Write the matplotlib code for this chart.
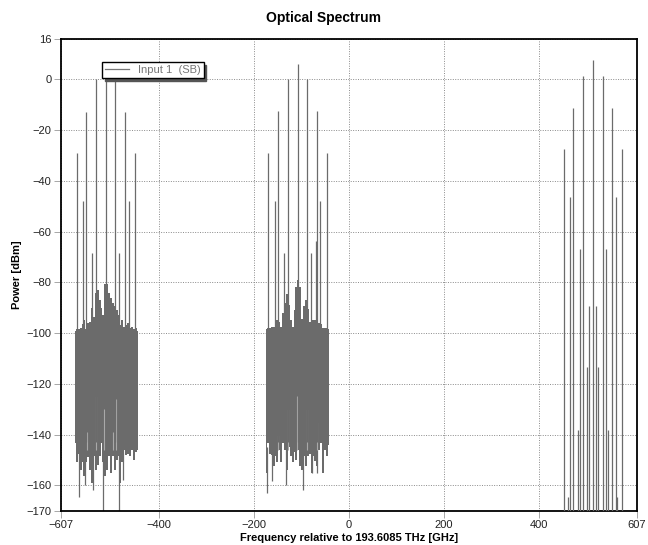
import numpy as np
import matplotlib
matplotlib.use("Agg")
import matplotlib.pyplot as plt
from matplotlib.lines import Line2D

plt.rcParams['font.family'] = ['Liberation Sans', 'DejaVu Sans']

# Spectral lines of the three channels (GHz, dBm)
left_freq = [-574.4, -561.6, -554.0, -541.4, -533.6, -513.1, -492.9, -485.1, -471.8, -464.6, -451.0]
left_power = [-29.1, -47.8, -12.7, -68.5, 0.1, 0.1, -0.2, -68.5, -12.7, -47.8, -29.1]

mid_freq = [-170.2, -156.7, -149.1, -136.5, -129.3, -108.2, -88.0, -80.8, -69.6, -67.5, -60.5, -47.0]
mid_power = [-29.1, -47.9, -12.4, -68.5, 0.2, 6.0, 0.2, -68.5, -63.7, -12.4, -47.9, -29.1]

right_freq = [452.9, 462.6, 466.8, 473.1, 483.0, 486.6, 493.6, 501.4, 506.9, 514.0,
              521.6, 525.8, 535.1, 542.7, 545.7, 555.4, 562.5, 565.9, 576.5]
right_power = [-27.4, -164.5, -46.2, -11.4, -138.2, -67.0, 1.4, -113.2, -89.3, 7.7,
               -89.3, -113.2, 1.4, -67.0, -138.2, -11.4, -46.2, -164.5, -27.4]

# Noise floor envelopes under the left and middle channels
left_band_freq = [-578, -574, -570, -566, -562, -558, -554, -550, -546, -542, -538, -534,
                  -530, -526, -522, -518, -514, -510, -506, -502, -498, -494, -490, -486,
                  -482, -478, -474, -470, -466, -462, -458, -454, -450, -446]
left_band_top = [-99, -98.5, -98.5, -98, -96.5, -95, -98.5, -96, -95.5, -90, -93.5, -84,
                 -83, -87, -90, -93, -80.5, -80.5, -84, -86, -88, -89.5, -91, -93,
                 -97, -95, -97.5, -97, -96, -98, -97.5, -98.5, -98, -99]
left_band_bottom = [-143.5, -151, -147.5, -154, -151, -156.5, -151, -149, -154, -159, -148.5, -154,
                    -152, -148.5, -143.5, -151, -156.5, -154, -148.5, -155, -148.5, -154, -150, -148.5,
                    -159, -151, -146, -148, -147.5, -148.5, -146, -150, -147, -146]

mid_band_freq = [-175, -171, -167, -163, -159, -155, -151, -147, -143, -139, -135, -131,
                 -127, -123, -119, -115, -111, -107, -103, -99, -95, -91, -87, -83,
                 -79, -75, -71, -67, -63, -59, -55, -51, -47, -43]
mid_band_top = [-98.5, -98, -98, -97.5, -97.5, -96, -95, -95.5, -97.5, -92, -88, -84.5,
                -89, -95, -97.5, -91, -82, -79, -82, -94.5, -89.5, -87, -90.5, -95.5,
                -96, -95, -95, -97, -96, -96.5, -98, -98, -98, -98.5]
mid_band_bottom = [-155, -143.5, -147.5, -148, -152.5, -148.5, -151, -146, -151, -143.5, -146, -154,
                   -145, -148.5, -151, -147, -150, -146, -152.5, -154, -148.5, -152.5, -148.5, -147.5,
                   -155, -148.5, -150.5, -152.5, -146, -143.5, -155, -146, -148.5, -144]

# Deep dips of the noise floor
dip_freq = [-569, -557, -540, -518, -486, -476, -172, -162, -133, -96, -77, -67]
dip_power = [-164.5, -160, -162, -170, -170, -158, -163, -158.5, -160, -162, -155, -155]

# Lighter traces visible inside the noise band
spur_freq = [-552, -534, -517, -497, -492, -149, -129, -109, -88, -67]
spur_power = [-139, -125, -130, -139, -126, -140, -130, -125, -130, -135]

xticks = [-607, -400, -200, 0, 200, 400, 607]
yticks = [16, 0, -20, -40, -60, -80, -100, -120, -140, -160, -170]

trace = '#6b6b6b'

fig = plt.figure(figsize=(6.48, 5.45), dpi=100)
ax = fig.add_axes([0.0944, 0.0631, 0.8883, 0.8655])

ax.fill_between(left_band_freq, left_band_bottom, left_band_top, step='mid',
                color=trace, lw=0, zorder=2)
ax.fill_between(mid_band_freq, mid_band_bottom, mid_band_top, step='mid',
                color=trace, lw=0, zorder=2)

ax.vlines(dip_freq, -145, dip_power, color=trace, lw=0.9, zorder=2)
ax.vlines(spur_freq, spur_power, -146, color='#a9a9a9', lw=0.8, zorder=3)

ax.vlines(left_freq, -143, left_power, color=trace, lw=0.9, zorder=3)
ax.vlines(mid_freq, -143, mid_power, color=trace, lw=0.9, zorder=3)
ax.vlines(right_freq, -170, right_power, color=trace, lw=0.9, zorder=3)

ax.set_xlim(-607, 607)
ax.set_ylim(-170, 16)
ax.set_xticks(xticks)
ax.set_yticks(yticks)
ax.tick_params(labelsize=8, length=5, width=0.6, color='#999999', labelcolor='#222222', pad=2)
ax.grid(True, color='#8a8a8a', linestyle=(0, (1, 1.5)), linewidth=0.7, zorder=1)
ax.set_axisbelow(True)
for s in ax.spines.values():
    s.set_linewidth(1.3)
    s.set_color('black')

ax.set_xlabel('Frequency relative to 193.6085 THz [GHz]', fontsize=8, fontweight='bold', labelpad=2)
ax.set_ylabel('Power [dBm]', fontsize=8, fontweight='bold', labelpad=3)
fig.text(0.5, 0.967, 'Optical Spectrum', ha='center', va='center', fontsize=10, fontweight='bold')

handle = Line2D([], [], color='#777777', lw=0.9)
leg = ax.legend([handle], ['Input 1  (SB)'], loc='upper left', bbox_to_anchor=(0.071, 0.95),
                borderaxespad=0, fontsize=8, fancybox=False, framealpha=1,
                edgecolor='black', handlelength=2.2, borderpad=0.25,
                shadow={'color': '#555555', 'alpha': 1})
for t in leg.get_texts():
    t.set_color('#777777')
leg.get_frame().set_linewidth(1.0)

fig.savefig('out.png', dpi=100)
